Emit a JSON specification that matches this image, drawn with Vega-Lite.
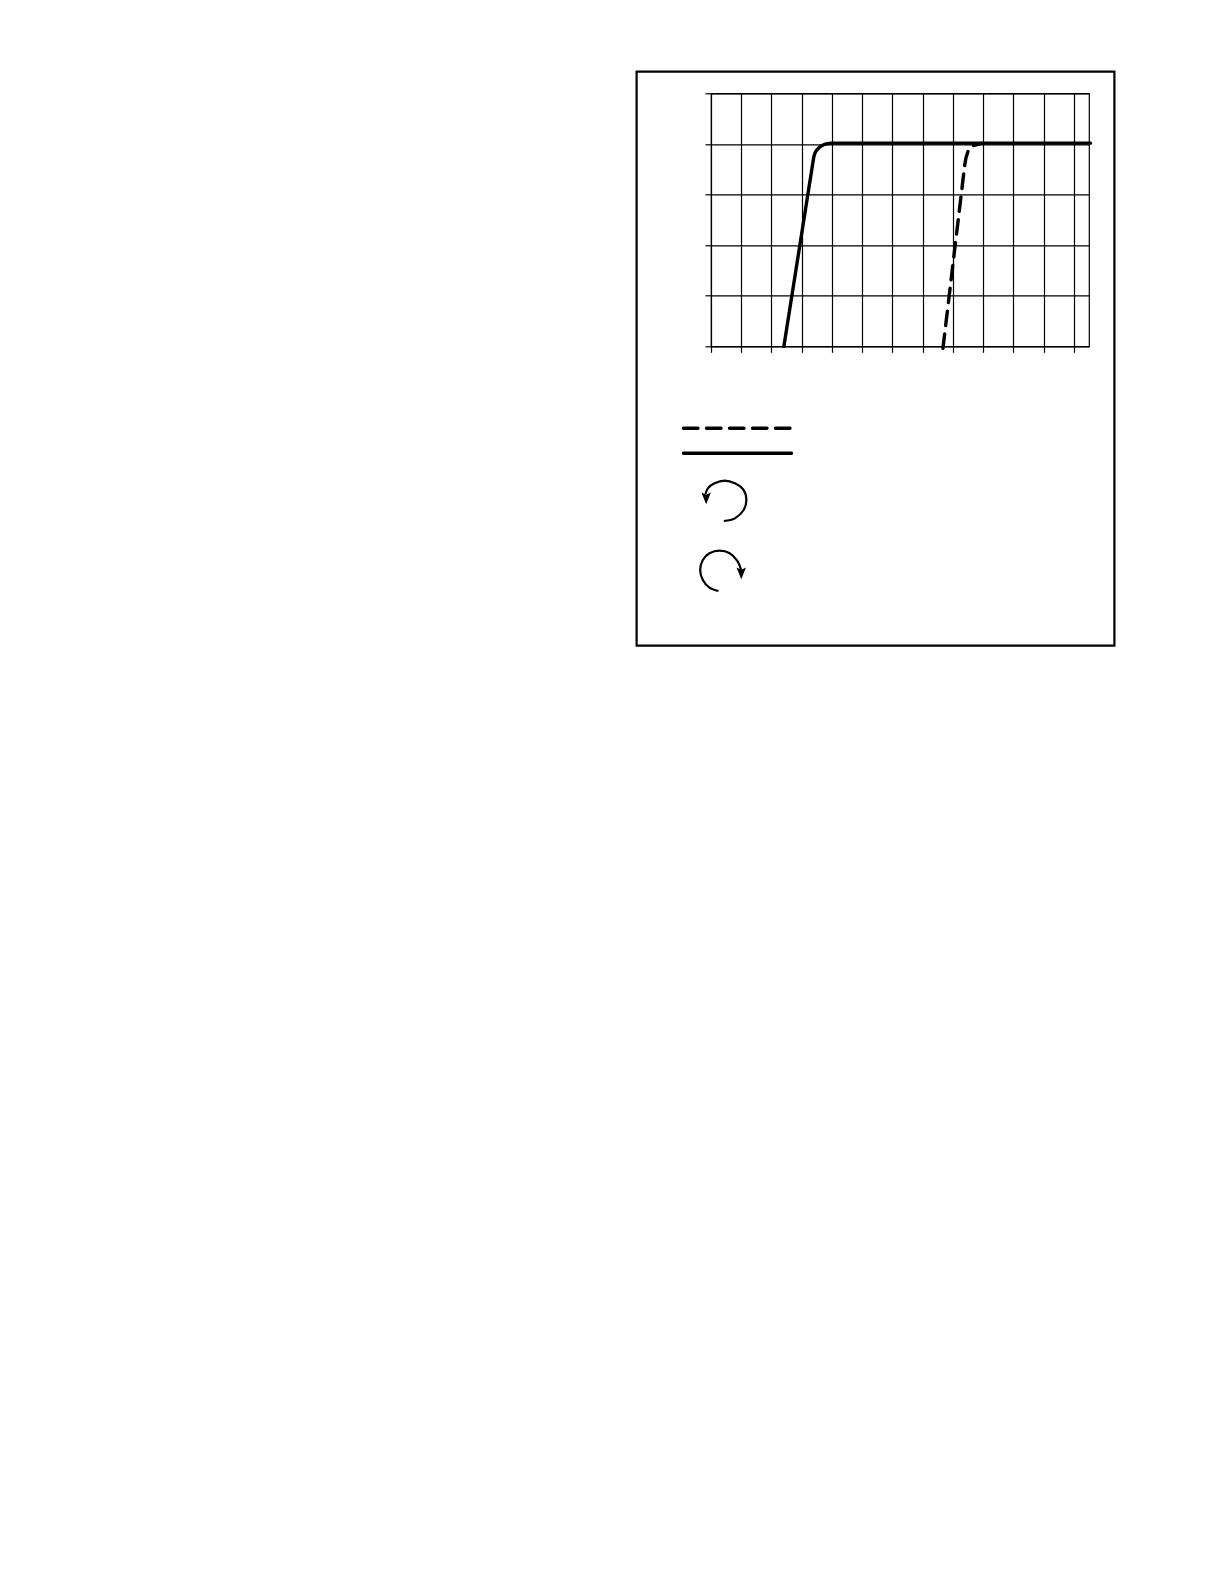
{
  "$schema": "https://vega.github.io/schema/vega-lite/v6.json",
  "width": 378,
  "height": 253,
  "autosize": {"type": "none"},
  "padding": {"left": 711, "top": 93.3, "right": 135, "bottom": 1237.7},
  "background": "white",
  "config": {"view": {"stroke": "black", "strokeWidth": 1.2}},
  "datasets": {
    "frame": [{"x": -2.46, "x2": 13.34, "y": 5.427, "y2": -5.917}],
    "curves": [
      {"curve": "solid", "part": "plot", "i": 1, "x": 2.41, "y": 0},
      {"curve": "solid", "part": "plot", "i": 2, "x": 3.4, "y": 3.747},
      {"curve": "solid", "part": "plot", "i": 3, "x": 3.44, "y": 3.82},
      {"curve": "solid", "part": "plot", "i": 4, "x": 3.48, "y": 3.866},
      {"curve": "solid", "part": "plot", "i": 5, "x": 3.56, "y": 3.92},
      {"curve": "solid", "part": "plot", "i": 6, "x": 3.645, "y": 3.959},
      {"curve": "solid", "part": "plot", "i": 7, "x": 3.73, "y": 3.985},
      {"curve": "solid", "part": "plot", "i": 8, "x": 3.81, "y": 4.0},
      {"curve": "solid", "part": "plot", "i": 9, "x": 3.9, "y": 4.01},
      {"curve": "solid", "part": "plot", "i": 10, "x": 4.01, "y": 4.015},
      {"curve": "solid", "part": "plot", "i": 11, "x": 12.55, "y": 4.015},
      {"curve": "dashed", "part": "plot", "i": 1, "x": 7.67, "y": -0.04},
      {"curve": "dashed", "part": "plot", "i": 2, "x": 8.39, "y": 3.58},
      {"curve": "dashed", "part": "plot", "i": 3, "x": 8.43, "y": 3.72},
      {"curve": "dashed", "part": "plot", "i": 4, "x": 8.52, "y": 3.89},
      {"curve": "dashed", "part": "plot", "i": 5, "x": 8.66, "y": 3.965},
      {"curve": "dashed", "part": "plot", "i": 6, "x": 8.94, "y": 4.01},
      {"curve": "dashed", "part": "key", "i": 1, "x": -0.91, "y": -1.62},
      {"curve": "dashed", "part": "key", "i": 2, "x": 2.663, "y": -1.62},
      {"curve": "solid", "part": "key", "i": 1, "x": -0.91, "y": -2.115},
      {"curve": "solid", "part": "key", "i": 2, "x": 2.663, "y": -2.115}
    ],
    "arcs": [
      {"arc": "ccw", "i": 1, "x": 0.424, "y": -3.453},
      {"arc": "ccw", "i": 2, "x": 0.79, "y": -3.4},
      {"arc": "ccw", "i": 3, "x": 1.08, "y": -3.235},
      {"arc": "ccw", "i": 4, "x": 1.17, "y": -3.038},
      {"arc": "ccw", "i": 5, "x": 1.08, "y": -2.84},
      {"arc": "ccw", "i": 6, "x": 0.79, "y": -2.708},
      {"arc": "ccw", "i": 7, "x": 0.447, "y": -2.655},
      {"arc": "ccw", "i": 8, "x": 0.116, "y": -2.708},
      {"arc": "ccw", "i": 9, "x": -0.105, "y": -2.807},
      {"arc": "ccw", "i": 10, "x": -0.182, "y": -2.925},
      {"arc": "cw", "i": 1, "x": 0.248, "y": -4.836},
      {"arc": "cw", "i": 2, "x": -0.05, "y": -4.77},
      {"arc": "cw", "i": 3, "x": -0.27, "y": -4.618},
      {"arc": "cw", "i": 4, "x": -0.358, "y": -4.421},
      {"arc": "cw", "i": 5, "x": -0.27, "y": -4.223},
      {"arc": "cw", "i": 6, "x": -0.05, "y": -4.091},
      {"arc": "cw", "i": 7, "x": 0.281, "y": -4.039},
      {"arc": "cw", "i": 8, "x": 0.62, "y": -4.091},
      {"arc": "cw", "i": 9, "x": 0.87, "y": -4.243},
      {"arc": "cw", "i": 10, "x": 1.0, "y": -4.421}
    ],
    "heads": [
      {"arc": "ccw", "x": -0.16, "y": -3.005},
      {"arc": "cw", "x": 1.0, "y": -4.487}
    ]
  },
  "data": {"name": "curves"},
  "encoding": {
    "x": {
      "field": "x",
      "type": "quantitative",
      "title": null,
      "scale": {"domain": [0, 12.5], "nice": false, "zero": false},
      "axis": {
        "values": [0, 1, 2, 3, 4, 5, 6, 7, 8, 9, 10, 11, 12],
        "labels": false,
        "domain": false,
        "tickSize": 6,
        "tickColor": "black",
        "tickWidth": 1.2,
        "grid": true,
        "gridColor": "black",
        "gridWidth": 1.2,
        "gridOpacity": 1
      }
    },
    "y": {
      "field": "y",
      "type": "quantitative",
      "title": null,
      "scale": {"domain": [0, 5], "nice": false, "zero": false},
      "axis": {
        "values": [0, 1, 2, 3, 4, 5],
        "labels": false,
        "domain": false,
        "tickSize": 6,
        "tickColor": "black",
        "tickWidth": 1.2,
        "grid": true,
        "gridColor": "black",
        "gridWidth": 1.2,
        "gridOpacity": 1
      }
    }
  },
  "layer": [
    {
      "data": {"name": "frame"},
      "mark": {"type": "rect", "fillOpacity": 0, "stroke": "black", "strokeWidth": 2.2, "clip": false},
      "encoding": {
        "x2": {"field": "x2"},
        "y2": {"field": "y2"}
      }
    },
    {
      "mark": {"type": "line", "color": "black", "strokeWidth": 3.4, "strokeCap": "round", "strokeJoin": "round", "clip": false},
      "encoding": {
        "order": {"field": "i"},
        "detail": {"field": "part"},
        "strokeDash": {
          "field": "curve",
          "type": "nominal",
          "scale": {"domain": ["dashed", "solid"], "range": [[14.5, 8.5], [1, 0]]},
          "legend": null
        }
      }
    },
    {
      "data": {"name": "arcs"},
      "mark": {"type": "line", "color": "black", "strokeWidth": 2.2, "interpolate": "cardinal", "clip": false},
      "encoding": {
        "order": {"field": "i"},
        "detail": {"field": "arc"}
      }
    },
    {
      "data": {"name": "heads"},
      "mark": {
        "type": "point",
        "shape": "M0,1L-0.8,-1L0,-0.6L0.8,-1Z",
        "size": 140,
        "filled": true,
        "opacity": 1,
        "color": "black",
        "clip": false
      }
    }
  ]
}
